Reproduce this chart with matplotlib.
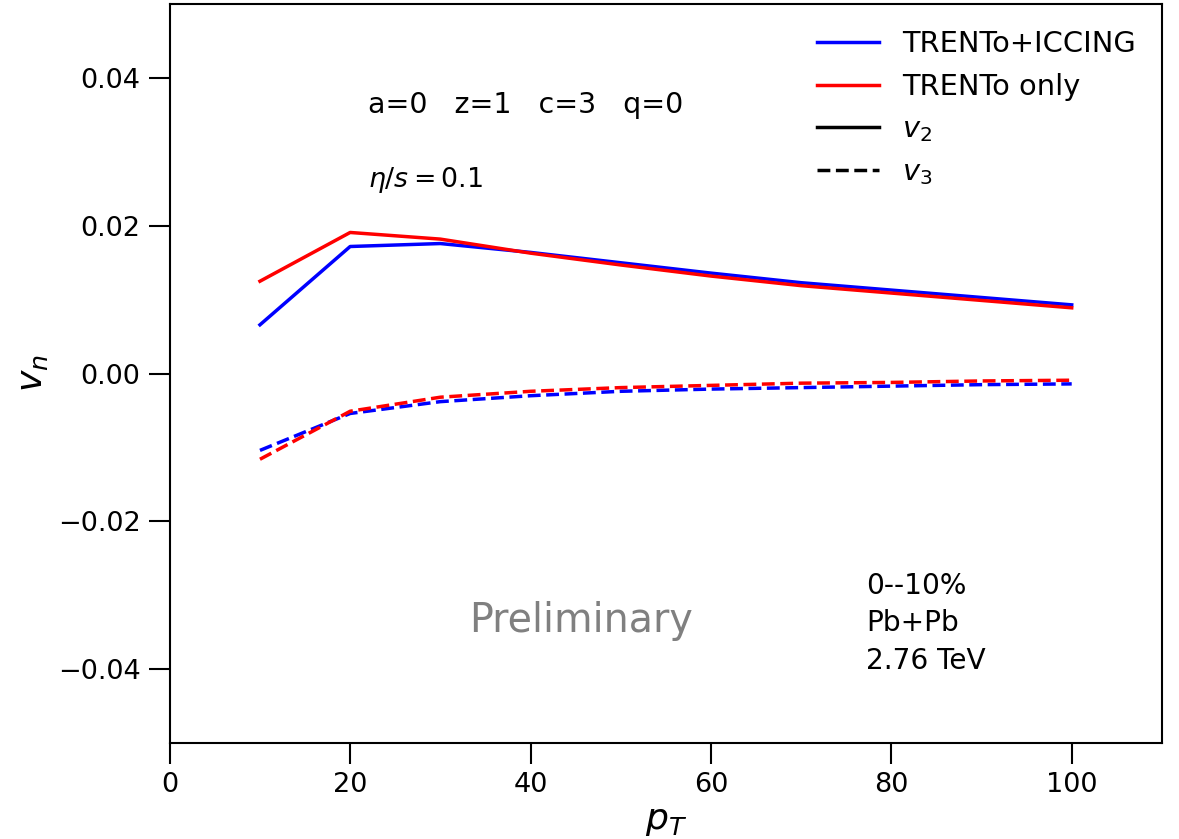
import numpy as np
import matplotlib.pyplot as plt
from matplotlib.lines import Line2D

# ---------------------------------------------------------------------------
# Datos
# ---------------------------------------------------------------------------
pt = [10, 20, 30, 40, 50, 60, 70, 80, 90, 100]

v2_iccing = [0.0066, 0.0172, 0.0176, 0.0164, 0.0150, 0.0136, 0.0123, 0.0113, 0.0103, 0.0093]
v2_trento = [0.0125, 0.0191, 0.0182, 0.0163, 0.0147, 0.0132, 0.0119, 0.0109, 0.0099, 0.0089]

v3_iccing = [-0.0104, -0.0054, -0.0038, -0.0030, -0.0024, -0.0021, -0.0019, -0.0017, -0.0015, -0.0014]
v3_trento = [-0.0116, -0.0051, -0.0032, -0.0024, -0.0019, -0.0016, -0.0013, -0.0012, -0.0010, -0.0009]

params_text = "a=0   z=1   c=3   q=0"
eta_text = r"$\eta/s = 0.1$"
info_lines = ["0--10%", "Pb+Pb", "2.76 TeV"]

# ---------------------------------------------------------------------------
# Plot
# ---------------------------------------------------------------------------
fig = plt.figure(figsize=(11.79, 8.39), dpi=100)
ax = fig.add_axes([0.144, 0.1145, 0.8415, 0.8805])

lw = 2.5
ax.plot(pt, v2_iccing, color="blue", lw=lw)
ax.plot(pt, v2_trento, color="red", lw=lw)
ax.plot(pt, v3_iccing, color="blue", lw=lw, ls="--")
ax.plot(pt, v3_trento, color="red", lw=lw, ls="--")

ax.set_xlim(0, 110)
ax.set_ylim(-0.05, 0.05)
ax.set_xticks([0, 20, 40, 60, 80, 100])
ax.set_yticks([-0.04, -0.02, 0.0, 0.02, 0.04])
ax.yaxis.set_major_formatter(
    plt.FuncFormatter(lambda v, _: f"{v:.2f}".replace("-", "\u2212")))
ax.tick_params(axis="both", labelsize=19.5, length=15, width=1.5, pad=6)
for sp in ax.spines.values():
    sp.set_linewidth(1.5)

ax.set_xlabel(r"$p_T$", fontsize=26, labelpad=4)
ax.set_ylabel(r"$v_n$", fontsize=26, labelpad=6)

ax.text(22, 0.0363, params_text, fontsize=20.5, va="center")
ax.text(22, 0.0262, eta_text, fontsize=19.3, va="center")
ax.text(45.6, -0.0335, "Preliminary", fontsize=28.5, color="gray",
        ha="center", va="center")
for i, line in enumerate(info_lines):
    ax.text(77.2, -0.0287 - i * 0.0051, line, fontsize=20.2, va="center")

handles = [
    Line2D([], [], color="blue", lw=lw),
    Line2D([], [], color="red", lw=lw),
    Line2D([], [], color="black", lw=lw),
    Line2D([], [], color="black", lw=lw, ls="--"),
]
labels = ["TRENTo+ICCING", "TRENTo only", r"$v_2$", r"$v_3$"]
ax.legend(handles, labels, loc="upper right", frameon=False, fontsize=20.8,
          handlelength=2.15, handletextpad=0.8, labelspacing=0.5,
          borderaxespad=0.5)

plt.savefig("out.png", dpi=100)
